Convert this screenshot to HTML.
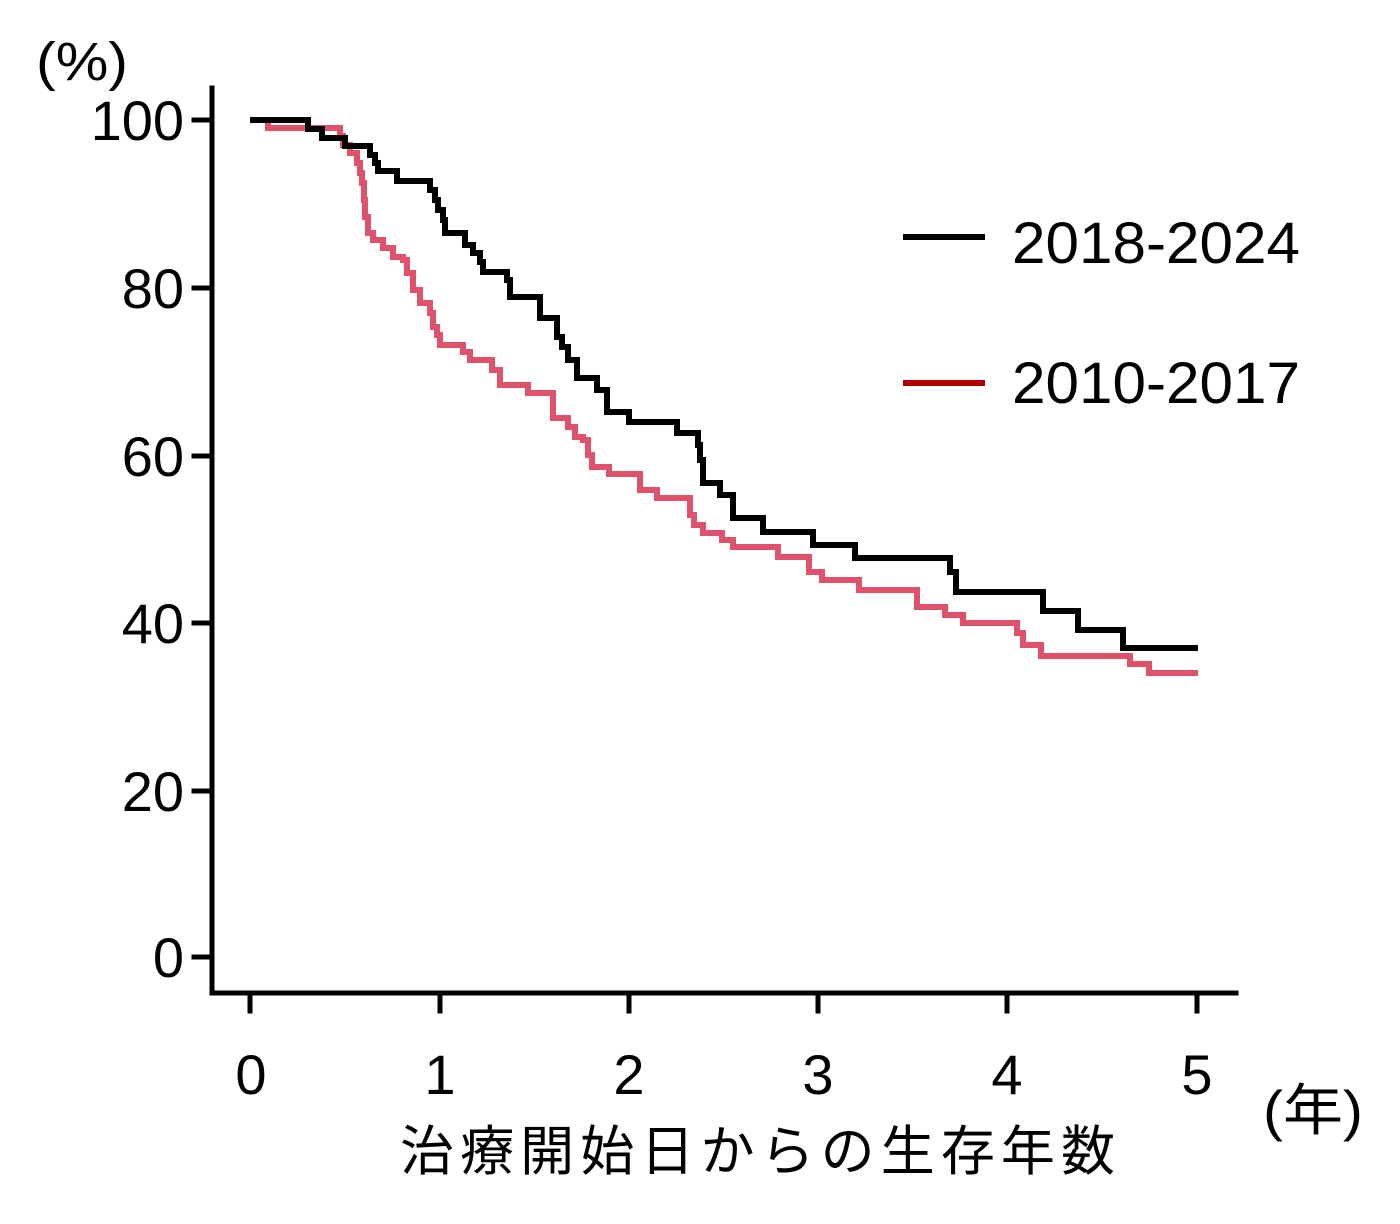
<!DOCTYPE html>
<html><head><meta charset="utf-8"><style>
html,body{margin:0;padding:0;background:#fff;}
svg{display:block;}
text{font-family:"Liberation Sans","Noto Sans CJK JP",sans-serif;fill:#000;}
</style></head><body>
<svg id="s" width="1400" height="1224" viewBox="0 0 1400 1224" xmlns="http://www.w3.org/2000/svg">
<g stroke="#000" stroke-width="5" fill="none" stroke-linecap="square">
<line x1="212" y1="88" x2="212" y2="993"/>
<line x1="212" y1="993" x2="1236" y2="993"/>
<line x1="194" y1="120" x2="212" y2="120"/>
<line x1="194" y1="288" x2="212" y2="288"/>
<line x1="194" y1="456" x2="212" y2="456"/>
<line x1="194" y1="623" x2="212" y2="623"/>
<line x1="194" y1="791" x2="212" y2="791"/>
<line x1="194" y1="957" x2="212" y2="957"/>
<line x1="250" y1="993" x2="250" y2="1011"/>
<line x1="440" y1="993" x2="440" y2="1011"/>
<line x1="629" y1="993" x2="629" y2="1011"/>
<line x1="818" y1="993" x2="818" y2="1011"/>
<line x1="1007" y1="993" x2="1007" y2="1011"/>
<line x1="1197" y1="993" x2="1197" y2="1011"/>
</g>
<g font-size="56" text-anchor="end">
<text x="184" y="140">100</text>
<text x="184" y="308">80</text>
<text x="184" y="476">60</text>
<text x="184" y="643">40</text>
<text x="184" y="811">20</text>
<text x="184" y="977">0</text>
</g>
<g font-size="56" text-anchor="middle">
<text x="251" y="1094">0</text>
<text x="440" y="1094">1</text>
<text x="629" y="1094">2</text>
<text x="818" y="1094">3</text>
<text x="1007" y="1094">4</text>
<text x="1197" y="1094">5</text>
</g>
<text x="36" y="80" font-size="54" textLength="92" lengthAdjust="spacingAndGlyphs">(%)</text>
<text x="1263" y="1130" font-size="56" textLength="100" lengthAdjust="spacingAndGlyphs">(年)</text>
<text x="400" y="1170" font-size="54" textLength="715" lengthAdjust="spacing">治療開始日からの生存年数</text>
<line x1="903" y1="237" x2="985" y2="237" stroke="#000" stroke-width="6"/>
<line x1="903" y1="383" x2="985" y2="383" stroke="#b00000" stroke-width="6"/>
<text x="1012" y="263" font-size="58" textLength="288" lengthAdjust="spacingAndGlyphs">2018-2024</text>
<text x="1012" y="403" font-size="58" textLength="288" lengthAdjust="spacingAndGlyphs">2010-2017</text>
<path id="red" fill="none" stroke="#e0516b" stroke-width="6" stroke-linejoin="miter"/>
<path id="blk" fill="none" stroke="#000" stroke-width="6" stroke-linejoin="miter"/>
</svg>
<script>
function step(p){var d="M"+p[0][0]+" "+p[0][1];for(var i=1;i<p.length;i++){d+=" H"+p[i][0]+" V"+p[i][1];}return d;}
var red=[[250,120],[268,120],[268,128],[335,128],[340,136],[343,145],[350,153],[357,163],[360,173],[362,183],[364,200],[365,217],[368,233],[373,240],[383,248],[393,257],[403,260],[407,273],[413,290],[420,303],[430,313],[433,327],[437,335],[440,345],[463,345],[463,352],[470,352],[470,360],[490,360],[492,370],[500,385],[528,385],[528,393],[551,393],[553,418],[568,418],[568,427],[575,437],[583,440],[588,455],[592,467],[609,467],[609,474],[635,474],[640,490],[657,498],[687,498],[690,515],[694,525],[703,533],[722,540],[733,547],[778,547],[778,557],[809,557],[809,572],[822,580],[859,582],[859,590],[917,590],[917,607],[945,607],[945,615],[963,615],[963,623],[1013,623],[1017,633],[1023,645],[1041,656],[1130,656],[1130,664],[1149,664],[1149,673],[1198,673]];
var blk=[[250,120],[308,120],[308,129],[322,129],[322,138],[345,138],[345,146],[365,146],[370,155],[375,163],[378,171],[397,171],[397,181],[427,181],[430,190],[435,200],[438,210],[443,220],[445,233],[465,233],[465,245],[473,253],[480,262],[483,272],[505,272],[507,280],[510,297],[540,297],[540,318],[555,318],[557,337],[562,347],[568,360],[577,378],[595,378],[597,390],[607,400],[607,412],[629,412],[629,422],[677,422],[677,433],[696,433],[698,445],[700,460],[703,483],[720,483],[720,495],[733,495],[733,518],[763,518],[763,532],[813,532],[813,545],[855,545],[855,558],[950,558],[950,572],[956,572],[956,592],[1043,592],[1043,611],[1078,611],[1078,630],[1123,630],[1123,648],[1198,648]];
document.getElementById("red").setAttribute("d",step(red));
document.getElementById("blk").setAttribute("d",step(blk));
</script>
</body></html>
